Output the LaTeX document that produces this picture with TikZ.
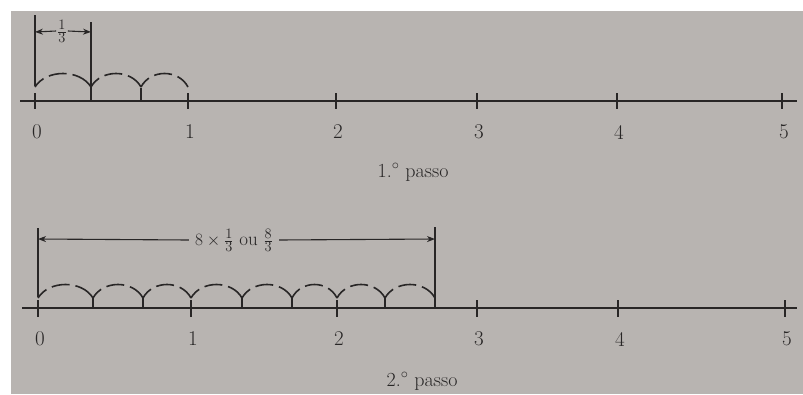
\documentclass[tikz,border=0pt]{standalone}
\usetikzlibrary{arrows.meta}
\definecolor{paper}{RGB}{184,180,177}
\definecolor{ink}{RGB}{40,38,38}
\begin{document}
\begin{tikzpicture}[x=1pt,y=-1pt,
  axis/.style={ink,line width=1.8pt},
  tickmark/.style={ink,line width=1.3pt},
  hop/.style={ink,line width=1.6pt,dash pattern=on 12pt off 6pt on 18pt off 6pt on 40pt off 5pt},
  dimline/.style={ink,line width=1.1pt},
  dimarrow/.style={ink,line width=1.1pt,-{Stealth[length=8pt,width=6pt]}},
  numlab/.style={text=ink,font=\fontsize{21}{24}\selectfont},
  caption/.style={text=ink,font=\fontsize{20}{23}\selectfont},
  fraclab/.style={text=ink,font=\fontsize{19}{22}\selectfont,inner sep=1pt}]
\useasboundingbox (0,0) rectangle (803,394);
\fill[white] (0,0) rectangle (803,394);
\fill[paper] (11,11) rectangle (803,394);

% ---------- 1.o passo ----------
\coordinate (A0s) at (20,101);
\coordinate (A0e) at (797,101);
\draw[axis] (A0s) -- (A0e);
\foreach \n/\x in {0/35,1/188,2/336,3/477,4/617,5/782}{
  \coordinate (Ta\n) at (\x,93);
  \coordinate (Ba\n) at (\x,109);
  \draw[tickmark] (Ta\n) -- (Ba\n);
  \node[numlab] (La\n) at (\x+2,132) {\n};
}
\foreach \i/\x in {1/91,2/141}{
  \coordinate (Ma\i) at (\x,88);
  \coordinate (Na\i) at (\x,101);
  \draw[tickmark] (Ma\i) -- (Na\i);
}
\foreach \a/\b in {35/91,91/141,141/188}{
  \draw[hop] (\a,87) .. controls ({\a+0.2*(\b-\a)},69) and ({\b-0.2*(\b-\a)},69) .. (\b,87);
}
\coordinate (DaL0) at (35,15);
\coordinate (DaL1) at (35,86);
\coordinate (DaR0) at (91,22);
\coordinate (DaR1) at (91,88);
\draw[dimline] (DaL0) -- (DaL1);
\draw[dimline] (DaR0) -- (DaR1);
\coordinate (DaA) at (35,32);
\coordinate (DaB) at (91,32);
\node[fraclab] (Fa) at (62,31) {$\frac{1}{3}$};
\draw[dimarrow] (Fa.west) -- (DaA);
\draw[dimarrow] (Fa.east) -- (DaB);
\node[caption] (Ca) at (413,172) {1.$^{\circ}$ passo};

% ---------- 2.o passo ----------
\coordinate (A1s) at (22,308);
\coordinate (A1e) at (797,308);
\draw[axis] (A1s) -- (A1e);
\foreach \n/\x in {0/38,1/191,2/337,3/477,4/618,5/785}{
  \coordinate (Tb\n) at (\x,300);
  \coordinate (Bb\n) at (\x,317);
  \draw[tickmark] (Tb\n) -- (Bb\n);
  \node[numlab] (Lb\n) at (\x+2,339) {\n};
}
\foreach \i/\x in {1/93,2/143,4/242,5/292,7/385}{
  \coordinate (Mb\i) at (\x,298);
  \coordinate (Nb\i) at (\x,308);
  \draw[tickmark] (Mb\i) -- (Nb\i);
}
\foreach \a/\b in {38/93,93/143,143/191,191/242,242/292,292/337,337/385,385/435}{
  \draw[hop] (\a,298) .. controls ({\a+0.2*(\b-\a)},280) and ({\b-0.2*(\b-\a)},280) .. (\b,298);
}
\coordinate (DbL0) at (38,228);
\coordinate (DbL1) at (38,297);
\coordinate (DbR0) at (435,227);
\coordinate (DbR1) at (435,308);
\draw[dimline] (DbL0) -- (DbL1);
\draw[dimline] (DbR0) -- (DbR1);
\coordinate (DbA) at (38,239);
\coordinate (DbB) at (435,239);
\node[fraclab,inner sep=6pt] (Fb) at (234,240) {$8\times\frac{1}{3}$ ou $\frac{8}{3}$};
\draw[dimarrow] (Fb.west) -- (DbA);
\draw[dimarrow] (Fb.east) -- (DbB);
\node[caption] (Cb) at (422,381) {2.$^{\circ}$ passo};
\end{tikzpicture}
\end{document}
